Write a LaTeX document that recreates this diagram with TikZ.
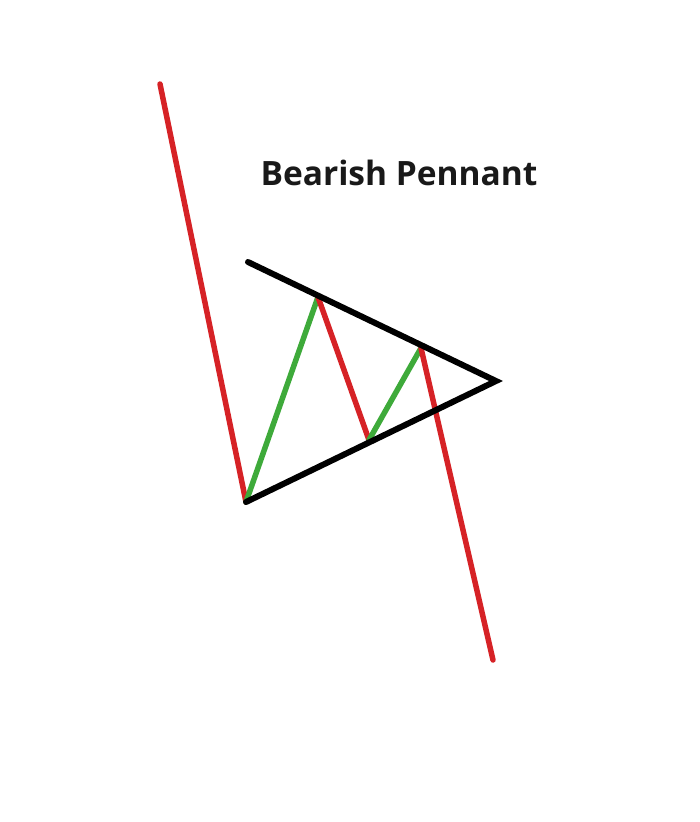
\documentclass[tikz,border=0pt]{standalone}
\usepackage{fontspec}
\setmainfont{Open Sans}
\definecolor{bred}{RGB}{214,34,38}
\definecolor{bgreen}{RGB}{62,170,58}
\begin{document}
\begin{tikzpicture}[x=1pt,y=-1pt,
  redleg/.style={draw=bred,line width=5.5pt,line cap=round},
  greenleg/.style={draw=bgreen,line width=5.5pt,line cap=round},
  trend/.style={draw=black,line width=6pt,line cap=round,line join=miter},
  title/.style={font=\bfseries\fontsize{33.5}{38}\selectfont,text=black!90,inner sep=0pt}]
\useasboundingbox (0,0) rectangle (699,822);
\coordinate (p0) at (160,84);
\coordinate (p1) at (246,502);
\coordinate (p2) at (318,297);
\coordinate (p3) at (369,440);
\coordinate (p4) at (421,348);
\coordinate (p5) at (493,660);
\coordinate (tl) at (248,262);
\coordinate (apex) at (496,381);
\draw[redleg] (p0) -- (p1);
\draw[greenleg] (p1) -- (p2);
\draw[redleg] (p2) -- (p3);
\draw[greenleg] (p3) -- (p4);
\draw[redleg] (p4) -- (p5);
\draw[trend] (tl) -- (apex) -- (p1);
\node[title] (t) at (399,173) {Bearish Pennant};
\end{tikzpicture}
\end{document}
